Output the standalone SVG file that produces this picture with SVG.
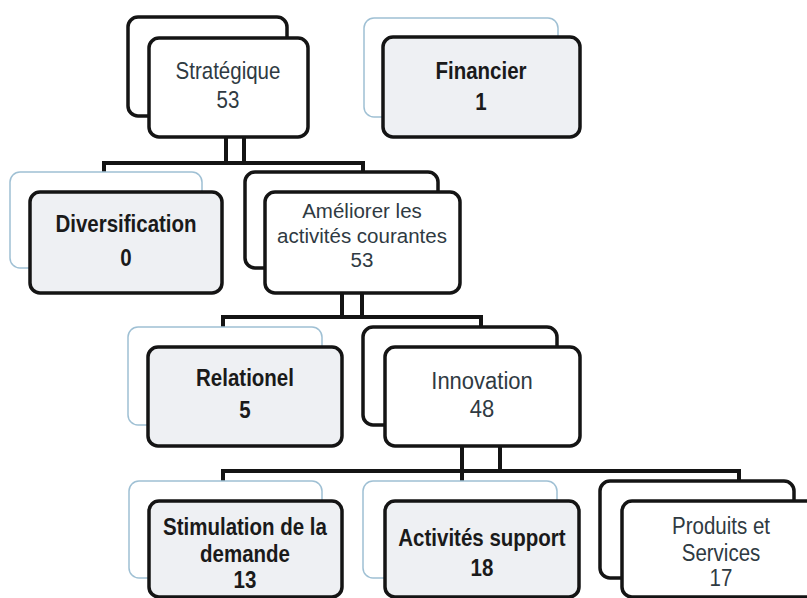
<svg xmlns="http://www.w3.org/2000/svg" width="807" height="598" viewBox="0 0 807 598">
<style>
.bg{fill:#ffffff}
.fw{fill:#ffffff;stroke:#141414;stroke-width:3.5}
.fg{fill:#eef0f3;stroke:#141414;stroke-width:3.5}
.bk{fill:#ffffff;stroke:#141414;stroke-width:3.5}
.bt{fill:#ffffff;stroke:#9fc0d4;stroke-width:1.5}
.c{fill:none;stroke:#141414;stroke-width:4}
.n{font-family:"Liberation Sans",Arial,sans-serif;font-size:20.5px;fill:#2f3a42;text-anchor:middle}
.b{font-family:"Liberation Sans",Arial,sans-serif;font-size:20.5px;font-weight:bold;fill:#1a1a1a;text-anchor:middle}
</style>
<rect class="bg" x="0" y="0" width="807" height="598"/>
<g id="connectors">
<path class="c" d="M226 137V163M244 137V163M104 172V163H363V172"/>
<path class="c" d="M342 293V317M362 293V317M223 327V317H481V327"/>
<path class="c" d="M500 446V471M462 446V481M223 481V471H739V481"/>
</g>
<g id="strategique">
<rect class="bk" x="128" y="17" width="159" height="99" rx="10"/>
<rect class="fw" x="149" y="38" width="159" height="99" rx="10"/>
<text class="n" transform="translate(228,79) scale(1,1.15)">Stratégique<tspan x="0" dy="25.2">53</tspan></text>
</g>
<g id="financier">
<rect class="bt" x="364" y="18" width="194" height="99" rx="10"/>
<rect class="fg" x="383" y="37" width="197" height="100" rx="10"/>
<text class="b" transform="translate(481,79) scale(1,1.15)">Financier<tspan x="0" dy="27">1</tspan></text>
</g>
<g id="diversification">
<rect class="bt" x="10" y="172" width="192" height="96" rx="10"/>
<rect class="fg" x="30" y="192" width="192" height="101" rx="10"/>
<text class="b" transform="translate(126,232) scale(1,1.15)">Diversification<tspan x="0" dy="29.5">0</tspan></text>
</g>
<g id="ameliorer">
<rect class="bk" x="245" y="172" width="193" height="96" rx="10"/>
<rect class="fw" x="265" y="192" width="195" height="101" rx="10"/>
<text class="n" x="362" y="218">Améliorer les<tspan x="362" dy="25">activités courantes</tspan><tspan x="362" dy="24">53</tspan></text>
</g>
<g id="relationel">
<rect class="bt" x="128" y="327" width="194" height="98" rx="10"/>
<rect class="fg" x="148" y="347" width="194" height="99" rx="10"/>
<text class="b" transform="translate(245,386) scale(1,1.15)">Relationel<tspan x="0" dy="27.8">5</tspan></text>
</g>
<g id="innovation">
<rect class="bk" x="363" y="327" width="194" height="98" rx="10"/>
<rect class="fw" x="385" y="347" width="195" height="99" rx="10"/>
<text class="n" style="font-size:22px" transform="translate(482,389) scale(1,1.1)">Innovation<tspan x="0" dy="25.5">48</tspan></text>
</g>
<g id="stimulation">
<rect class="bt" x="129" y="481" width="193" height="97" rx="10"/>
<rect class="fg" x="149" y="501" width="193" height="96" rx="10"/>
<text class="b" transform="translate(245,535) scale(1,1.15)">Stimulation de la<tspan x="0" dy="23.5">demande</tspan><tspan x="0" dy="22.6">13</tspan></text>
</g>
<g id="activites">
<rect class="bt" x="363" y="481" width="194" height="97" rx="10"/>
<rect class="fg" x="385" y="501" width="194" height="96" rx="10"/>
<text class="b" transform="translate(482,546) scale(1,1.15)">Activités support<tspan x="0" dy="26">18</tspan></text>
</g>
<g id="produits">
<rect class="bk" x="600" y="481" width="194" height="97" rx="10"/>
<rect class="fw" x="622" y="501" width="196" height="96" rx="10"/>
<text class="n" transform="translate(721,534) scale(1,1.15)">Produits et<tspan x="0" dy="23.5">Services</tspan><tspan x="0" dy="21.7">17</tspan></text>
</g>
</svg>
